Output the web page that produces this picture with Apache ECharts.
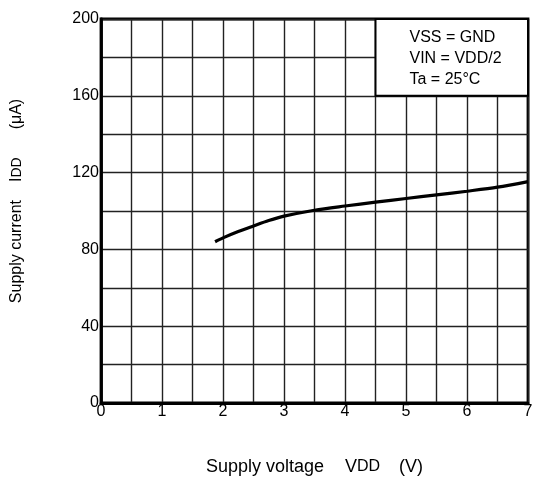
<!DOCTYPE html>
<html>
<head>
<meta charset="utf-8">
<script src="https://cdn.jsdelivr.net/npm/echarts@6/dist/echarts.min.js"></script>
<style>html,body{margin:0;padding:0;background:#fff}#c{width:534px;height:477px}</style>
</head>
<body>
<div id="c"></div>
<script>
var voltage = [1.87, 2.0, 2.25, 2.5, 2.75, 3.0, 3.5, 4.0, 4.5, 5.0, 5.5, 6.0, 6.5, 7.0];
var current = [84.0, 86.0, 89.3, 92.2, 95.0, 97.3, 100.4, 102.6, 104.6, 106.5, 108.4, 110.3, 112.4, 115.3];
var conditionLines = ['VSS = GND', 'VIN = VDD/2', 'Ta = 25°C'];
var xRange = [0, 7];
var yRange = [0, 200];
var boxCorners = [[4.5, 160], [7, 200]];

var font = 'Liberation Sans, Arial, sans-serif';
var chart = echarts.init(document.getElementById('c'));
chart.setOption({
  animation: false,
  backgroundColor: '#fff',
  grid: {left: 101, right: 6, top: 19, bottom: 74, containLabel: false, outerBoundsMode: 'none',
    show: true, borderColor: '#000', borderWidth: 2.8, backgroundColor: 'transparent'},
  xAxis: {
    type: 'value', min: xRange[0], max: xRange[1], interval: 0.5,
    axisLine: {show: true, lineStyle: {color: '#000', width: 2.8}},
    axisTick: {show: false},
    splitLine: {show: true, lineStyle: {color: '#222', width: 1.4}},
    axisLabel: {color: '#000', fontSize: 16, fontFamily: font, margin: 1,
      formatter: function (v) { return Number.isInteger(v) ? String(v) : ''; }},
    name: '{a|Supply voltage}{v|V}{s|DD}{a|(V)}',
    nameLocation: 'middle', nameGap: 55,
    nameTextStyle: {color: '#000', fontSize: 18, fontFamily: font,
      rich: {
        a: {fontSize: 18, fontFamily: font, color: '#000'},
        v: {fontSize: 18, fontFamily: font, color: '#000', padding: [0, 0, 0, 21]},
        s: {fontSize: 16, fontFamily: font, color: '#000', padding: [0, 19, 0, 0]}
      }}
  },
  yAxis: {
    type: 'value', min: yRange[0], max: yRange[1], interval: 20,
    axisLine: {show: true, lineStyle: {color: '#000', width: 2.8}},
    axisTick: {show: false},
    splitLine: {show: true, lineStyle: {color: '#222', width: 1.4}},
    axisLabel: {color: '#000', fontSize: 16, fontFamily: font, margin: 2,
      formatter: function (v) { return v % 40 === 0 ? String(v) : ''; }},
    name: '{a|Supply current}{i|I}{s|DD}{a|(μA)}',
    nameLocation: 'middle', nameGap: 76, nameRotate: 90,
    nameTextStyle: {color: '#000', fontSize: 16, fontFamily: font, padding: [0, 0, 0, 20],
      rich: {
        a: {fontSize: 16, fontFamily: font, color: '#000'},
        i: {fontSize: 16, fontFamily: font, color: '#000', padding: [0, 0, 0, 18]},
        s: {fontSize: 14, fontFamily: font, color: '#000', padding: [0, 28, 0, 0]}
      }}
  },
  series: [{
    type: 'line',
    data: voltage.map(function (v, i) { return [v, current[i]]; }),
    smooth: 0.3,
    showSymbol: false,
    lineStyle: {color: '#000', width: 3.2},
    markArea: {
      silent: true,
      itemStyle: {color: '#fff', borderColor: '#000', borderWidth: 2},
      label: {show: true, position: 'insideTopLeft', offset: [30, 4],
        color: '#000', fontSize: 16, fontFamily: font, lineHeight: 21,
        formatter: conditionLines.join('\n')},
      data: [[{coord: boxCorners[0]}, {coord: boxCorners[1]}]]
    },
    z: 3
  }]
});
</script>
</body>
</html>
